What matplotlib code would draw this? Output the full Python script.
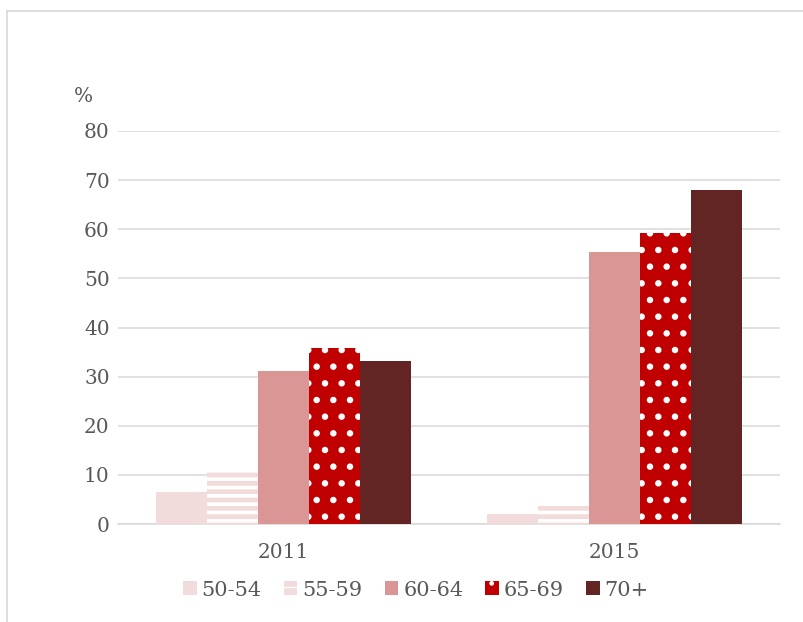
import matplotlib
matplotlib.use("Agg")
import matplotlib.pyplot as plt
import numpy as np
from matplotlib.lines import Line2D

years = ["2011", "2015"]
age_groups = ["50-54", "55-59", "60-64", "65-69", "70+"]
values = {
    "50-54": [6.6, 2.0],
    "55-59": [10.7, 3.9],
    "60-64": [31.2, 55.4],
    "65-69": [35.9, 59.2],
    "70+": [33.2, 67.9],
}
colors = ["#F2DCDB", "#F2DCDB", "#DA9694", "#C00000", "#632523"]
hatches = [None, "--", None, ".", None]
hatch_lw = [1.0, 2.6, 1.0, 2.2, 1.0]

text_color = "#595959"
grid_color = "#D9D9D9"
plt.rcParams["font.family"] = ["DejaVu Serif"]

fig = plt.figure(figsize=(8.04, 6.22), dpi=100)
ax = fig.add_axes([118 / 804, 1 - 524 / 622, (780 - 118) / 804, (524 - 131) / 622])

x = np.arange(len(years))
width = 0.154
handles = []
for i, g in enumerate(age_groups):
    with plt.rc_context({"hatch.linewidth": hatch_lw[i]}):
        offs = (i - 2) * width
        bars = ax.bar(x + offs, values[g], width, color=colors[i],
                      hatch=hatches[i], edgecolor="white" if hatches[i] else colors[i],
                      linewidth=0, zorder=3, label=g)
        for b in bars:
            if hasattr(b, "set_hatch_linewidth"):
                b.set_hatch_linewidth(hatch_lw[i])
        handles.append(bars)

ax.set_xlim(-0.5, 1.5)
ax.set_ylim(0, 80)
ax.set_yticks(np.arange(0, 81, 10))
ax.set_xticks(x)
ax.set_xticklabels(years)
ax.grid(axis="y", color=grid_color, linewidth=1.1, zorder=0)
ax.set_axisbelow(True)
for s in ["top", "right", "left"]:
    ax.spines[s].set_visible(False)
ax.spines["bottom"].set_color(grid_color)
ax.spines["bottom"].set_linewidth(1.1)
ax.tick_params(axis="both", length=0, labelsize=14.5, colors=text_color)
ax.tick_params(axis="y", pad=6)
ax.tick_params(axis="x", pad=14)

fig.text(83 / 804, 1 - 97 / 622, "%", fontsize=14.5, color=text_color,
         ha="center", va="center")

leg = fig.legend(handles=handles, labels=age_groups, loc="center",
                 bbox_to_anchor=(416 / 804, 1 - 590 / 622), ncol=5,
                 frameon=False, fontsize=15, handlelength=0.65, handleheight=0.65,
                 handletextpad=0.25, columnspacing=1.05, labelcolor=text_color)

# outer chart border (top and left visible)
fig.add_artist(Line2D([7 / 804, 1], [1 - 11 / 622, 1 - 11 / 622],
                      transform=fig.transFigure, color=grid_color, linewidth=1.2))
fig.add_artist(Line2D([7 / 804, 7 / 804], [0, 1 - 11 / 622],
                      transform=fig.transFigure, color=grid_color, linewidth=1.2))

fig.savefig("out.png", dpi=100)
